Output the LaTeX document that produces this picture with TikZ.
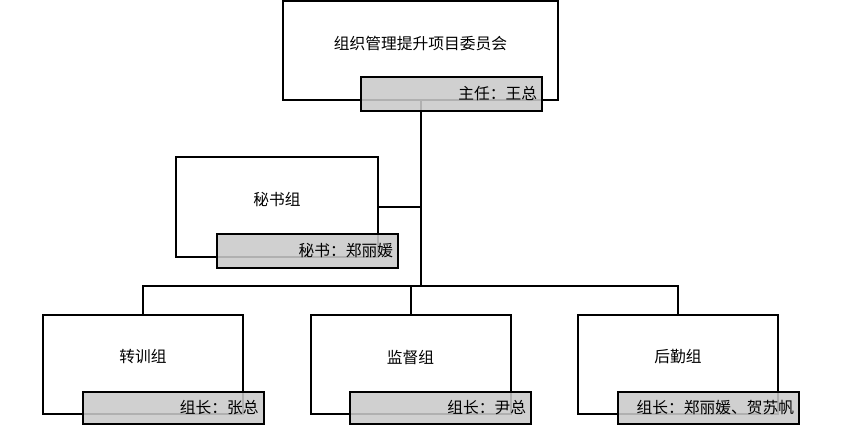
\documentclass[tikz,border=0pt]{standalone}
\usepackage{fontspec}
\setmainfont{Noto Sans CJK SC}
\usetikzlibrary{positioning}
\definecolor{leadgray}{RGB}{201,201,201}

\begin{document}
\begin{tikzpicture}[x=0.75pt, y=-0.75pt, line width=1.5pt,
    groupbox/.style={draw, inner sep=0pt, minimum width=150pt, minimum height=74.25pt},
    leadbox/.style={draw, fill=leadgray, fill opacity=0.88, text opacity=1, inner xsep=3.75pt, inner ysep=0pt,
                    text width=128.25pt, align=right, minimum height=24pt},
    every node/.style={font=\fontsize{11.8pt}{14pt}\selectfont}]
    \useasboundingbox (0,0) rectangle (841,425);

    % Boxes
    \node[groupbox, minimum width=206.25pt] (committee) at (420.5,50.5) {};
    \node[groupbox, minimum width=151.5pt, minimum height=75pt] (secretariat) at (277,207) {};
    \node[groupbox] (training) at (143,364) {};
    \node[groupbox] (supervision) at (410.5,364) {};
    \node[groupbox] (logistics) at (678,364) {};

    % Names
    \node[yshift=5.25pt] (committeename) at (committee.center) {组织管理提升项目委员会};
    \node[yshift=5.25pt] (secretariatname) at (secretariat.center) {秘书组};
    \node[yshift=5.25pt] (trainingname) at (training.center) {转训组};
    \node[yshift=5.25pt] (supervisionname) at (supervision.center) {监督组};
    \node[yshift=5.25pt] (logisticsname) at (logistics.center) {后勤组};

    % Connectors
    \coordinate (bus) at (420.5,286);
    \draw (committee.south) -- (bus);
    \draw (secretariat.east) -- (secretariat.east -| bus);
    \draw (training.north) |- (bus) -| (logistics.north);
    \draw (supervision.north) -- (supervision.north |- bus);

    % Leaders
    \node[leadbox, minimum height=25.5pt] (committeelead) at (451.5,94) {主任：王总};
    \node[leadbox, minimum height=25.5pt] (secretariatlead) at (307.5,251) {秘书：郑丽媛};
    \node[leadbox] (traininglead) at (173,408) {组长：张总};
    \node[leadbox] (supervisionlead) at (440.5,408) {组长：尹总};
    \node[leadbox] (logisticslead) at (708.5,408) {组长：郑丽媛、贺苏帆};
\end{tikzpicture}
\end{document}
